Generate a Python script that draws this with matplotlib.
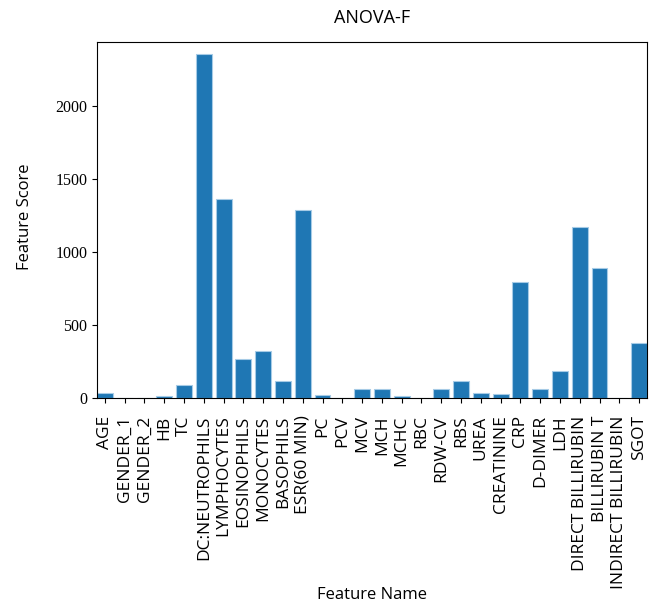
import matplotlib
matplotlib.use("Agg")
import matplotlib.pyplot as plt

features = ['AGE', 'GENDER_1', 'GENDER_2', 'HB', 'TC', 'DC:NEUTROPHILS', 'LYMPHOCYTES',
            'EOSINOPHILS', 'MONOCYTES', 'BASOPHILS', 'ESR(60 MIN)', 'PC', 'PCV', 'MCV',
            'MCH', 'MCHC', 'RBC', 'RDW-CV', 'RBS', 'UREA', 'CREATININE', 'CRP', 'D-DIMER',
            'LDH', 'DIRECT BILLIRUBIN', 'BILLIRUBIN T', 'INDIRECT BILLIRUBIN', 'SGOT']
scores = [34, 1, 1, 11, 91, 2357, 1366, 264, 320, 116, 1289, 23, 2, 59,
          59, 14, 1, 59, 116, 36, 25, 798, 59, 184, 1173, 889, 1, 377]

plt.rcParams['font.family'] = ['Open Sans', 'DejaVu Sans']

fig = plt.figure(figsize=(6.5, 6.06), dpi=100)
ax = fig.add_axes([97 / 650, 1 - 398 / 606, 550 / 650, 356 / 606])

ax.bar(range(len(features)), scores, width=0.8, color='#1f77b4',
       edgecolor='#a6cbe6', linewidth=0.8)
ax.set_xticks(range(len(features)))
ax.set_xticklabels(features, rotation=90, fontsize=12.5)
ax.tick_params(axis='x', pad=9)
ax.set_xlim(-0.4, len(features) - 0.6)
ax.set_ylim(0, 2440)
ax.set_yticks([0, 500, 1000, 1500, 2000])
for lbl in ax.get_yticklabels():
    lbl.set_fontfamily('Liberation Serif')
    lbl.set_fontsize(11.5)

ax.set_title('ANOVA-F', fontsize=13, pad=14)
ax.set_xlabel('Feature Name', fontsize=12)
ax.set_ylabel('Feature Score', fontsize=12)
ax.xaxis.set_label_coords(0.5, -0.532)
ax.yaxis.set_label_coords(-0.117, 0.51)

fig.savefig('out.png', dpi=100)
